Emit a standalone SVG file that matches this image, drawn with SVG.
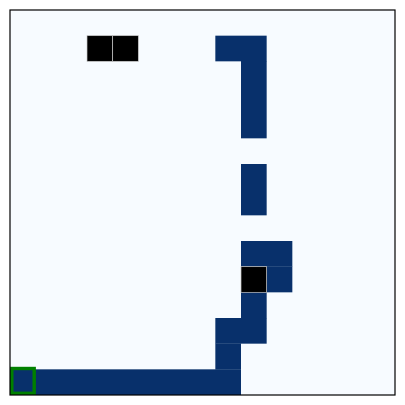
<svg xmlns="http://www.w3.org/2000/svg" width="405" height="405" viewBox="0 0 405 405">
<style>
.bg{fill:#f7fbff}
.path{fill:#08306b}
.wall{fill:#000;stroke:#c8c8c8;stroke-width:0.7}
.frame{fill:none;stroke:#000;stroke-width:1.2}
.start{fill:none;stroke:#008000;stroke-width:3.4}
</style>
<rect x="0" y="0" width="405" height="405" fill="#fff"/>
<rect class="bg" x="10" y="10" width="385" height="385"/>
<g id="path">
<rect class="path" x="215.333" y="35.667" width="51.333" height="25.667"/>
<rect class="path" x="241" y="61" width="25.667" height="77.333"/>
<rect class="path" x="241" y="164" width="25.667" height="51.333"/>
<rect class="path" x="241" y="241" width="51.333" height="25.667"/>
<rect class="path" x="266.667" y="266.4" width="25.667" height="25.933"/>
<rect class="path" x="241" y="292" width="25.667" height="26.3"/>
<rect class="path" x="215.333" y="318" width="51.333" height="25.667"/>
<rect class="path" x="215.333" y="343.4" width="25.667" height="26.2"/>
<rect class="path" x="10" y="369.333" width="231" height="25.667"/>
</g>
<g id="walls">
<rect class="wall" x="87" y="35.667" width="25.667" height="25.667"/>
<rect class="wall" x="112.667" y="35.667" width="25.667" height="25.667"/>
<rect class="wall" x="241" y="266.667" width="25.667" height="25.667"/>
</g>
<g id="start">
<rect class="start" x="11.8" y="368.5" width="22.4" height="24.8"/>
</g>
<rect class="frame" x="10" y="10" width="385" height="385"/>
</svg>
